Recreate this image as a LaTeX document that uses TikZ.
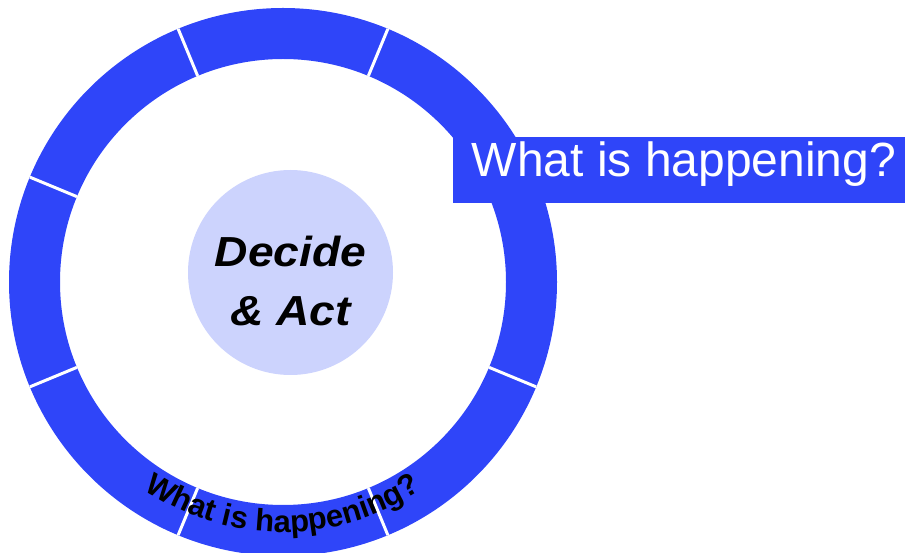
\documentclass[tikz,border=0pt]{standalone}
\usepackage{fontspec}
\setmainfont{Liberation Sans}
\newfontfamily\decidefont[FakeStretch=1.1]{Liberation Sans}
\usetikzlibrary{decorations.text}
\definecolor{color_ring}{HTML}{2F45F9}
\definecolor{color_hub}{HTML}{CCD3FD}
\definecolor{color_divider}{HTML}{FFFFFF}
\definecolor{color_ring_text}{HTML}{000000}
\def\ringradiusouter{274}
\def\ringradiusinner{223}
\def\ringtextradius{250}
\def\dividerlinewidth{3pt}
\def\ringtextsize{\fontsize{31}{31}\selectfont}

\begin{document}
\begin{tikzpicture}[x=1pt,y=1pt,
        hub/.style={circle, fill=color_hub, minimum size=205pt, inner sep=0pt},
        decide/.style={font=\decidefont\bfseries\itshape\fontsize{42}{59}\selectfont, align=center},
        question/.style={fill=color_ring, text=white, font=\fontsize{48}{48}\selectfont,
            minimum width=452pt, minimum height=66pt, inner sep=0pt, text height=35pt, text depth=22pt}]
        \useasboundingbox (0,0) rectangle (911,552);
        \coordinate (ringcenter) at (283,270);
        % the ring
        \fill[color_ring, even odd rule] (ringcenter) circle (\ringradiusouter) (ringcenter) circle (\ringradiusinner);
        \foreach \a in {22.5,67.5,...,337.5}
            \draw[color_divider, line width=\dividerlinewidth] ([shift={(\a:\ringradiusinner)}]ringcenter) -- ([shift={(\a:\ringradiusouter)}]ringcenter);
        % text on the ring
        \path[decorate, decoration={text along path, text align=center, text color=color_ring_text,
                text={|\bfseries\ringtextsize|What is happening?}}]
            ([shift={(200:\ringtextradius)}]ringcenter) arc[start angle=200, end angle=340, radius=\ringtextradius];
        % the hub
        \node[hub] (hub) at (290.5,279.5) {};
        \node[decide] (decide) at ([yshift=-8.5]hub.center) {Decide\\ \& Act};
        % the question box
        \node[question] (question) at (679,382) {\hspace*{10pt}What is happening?};
    \end{tikzpicture}
\end{document}
